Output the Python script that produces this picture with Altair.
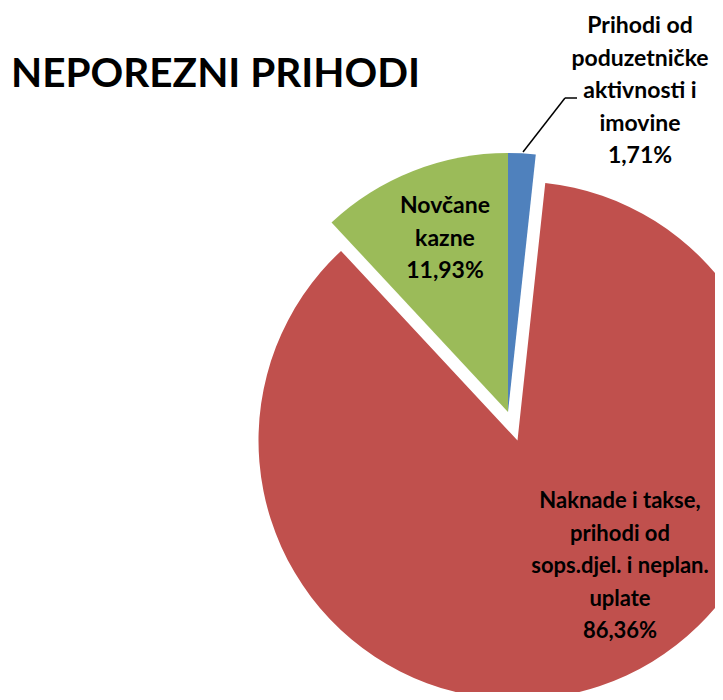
import math
import altair as alt
import pandas as pd

categories = [
    "Prihodi od\npoduzetničke\naktivnosti i\nimovine",
    "Naknade i takse,\nprihodi od\nsops.djel. i neplan.\nuplate",
    "Novčane\nkazne",
]
values = [1.71, 86.36, 11.93]
colors = ["#4F81BD", "#C0504D", "#9BBB59"]
title_text = "NEPOREZNI PRIHODI"

labels = [c + "\n" + f"{v:.2f}".replace(".", ",") + "%" for c, v in zip(categories, values)]
df = pd.DataFrame({"idx": [0, 1, 2], "cat": categories, "value": values, "label": labels})

FONT = "Lato"
R = 259
CX, CY = 500, 404  # pie centre in chart coords
# explode offsets per slice (style)
offsets = {0: (0, 0), 1: (9.5, 28.5), 2: (0, 0)}
label_pos = {0: (632, 25, 23), 1: (612, 500, 22), 2: (437, 205, 23)}

base = (
    alt.Chart(df)
    .transform_window(cum="sum(value)", frame=[None, 0])
    .transform_joinaggregate(total="sum(value)")
    .transform_calculate(
        t0="2*PI*(datum.cum - datum.value)/datum.total",
        t1="2*PI*datum.cum/datum.total",
    )
)

layers = []
for i in range(3):
    dx, dy = offsets[i]
    arc = (
        base.transform_filter(f"datum.idx == {i}")
        .mark_arc(radius=R, color=colors[i])
        .encode(
            theta=alt.Theta("t0:Q", scale=None),
            theta2="t1:Q",
            x=alt.value(CX + dx),
            y=alt.value(CY + dy),
        )
    )
    layers.append(arc)

for i in range(3):
    lx, ly, fs = label_pos[i]
    txt = (
        alt.Chart(df)
        .transform_filter(f"datum.idx == {i}")
        .mark_text(
            font=FONT, fontSize=fs, fontWeight="bold", color="#000000",
            align="center", baseline="alphabetic", lineBreak="\n", lineHeight=32.5,
        )
        .encode(text="label:N", x=alt.value(lx), y=alt.value(ly))
    )
    layers.append(txt)

leader1 = alt.Chart(df).transform_filter("datum.idx == 0").mark_rule(color="#000000", strokeWidth=1.5).encode(
    x=alt.value(515), y=alt.value(144), x2=alt.value(557), y2=alt.value(90)
)
leader2 = alt.Chart(df).transform_filter("datum.idx == 0").mark_rule(color="#000000", strokeWidth=1.5).encode(
    x=alt.value(557), y=alt.value(90), x2=alt.value(569), y2=alt.value(90)
)
layers += [leader1, leader2]

title = alt.Chart(pd.DataFrame({"t": [title_text]})).mark_text(
    font=FONT, fontSize=40.5, fontWeight="bold", color="#000000",
    align="left", baseline="alphabetic",
).encode(text="t:N", x=alt.value(3), y=alt.value(79))
layers.append(title)

chart = (
    alt.layer(*layers)
    .properties(width=707, height=684, autosize=alt.AutoSizeParams(type="none"), padding=0)
    .configure_view(strokeWidth=0)
)

chart.save("out.html", embed_options={"renderer": "svg", "actions": False})
